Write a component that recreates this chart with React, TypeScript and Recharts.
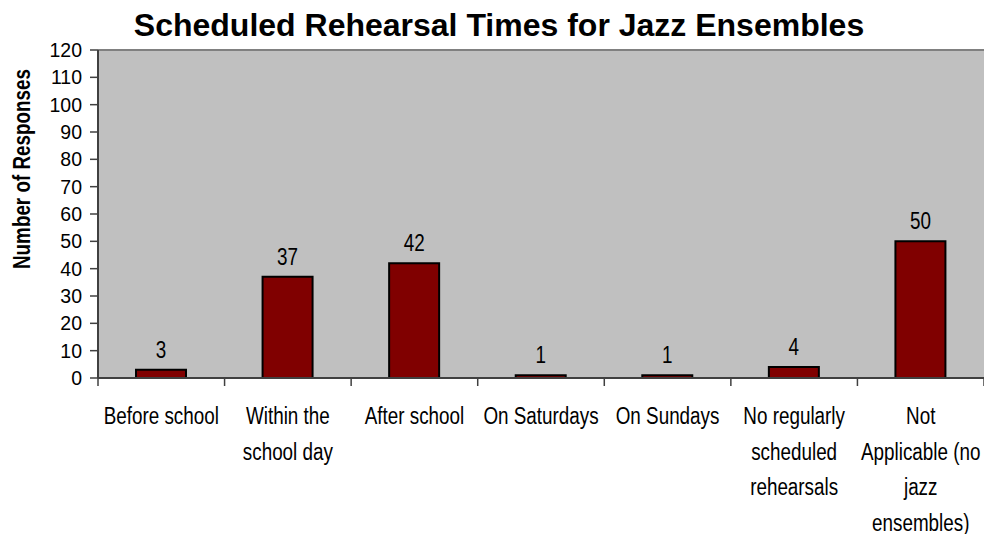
import React from 'react';
import { BarChart, Bar, XAxis, YAxis, CartesianGrid, ReferenceLine, LabelList } from 'recharts';

const categories = [
  'Before school',
  'Within the school day',
  'After school',
  'On Saturdays',
  'On Sundays',
  'No regularly scheduled rehearsals',
  'Not Applicable (no jazz ensembles)',
];
const categoryLines: string[][] = [
  ['Before school'],
  ['Within the', 'school day'],
  ['After school'],
  ['On Saturdays'],
  ['On Sundays'],
  ['No regularly', 'scheduled', 'rehearsals'],
  ['Not', 'Applicable (no', 'jazz', 'ensembles)'],
];
const responses = [3, 37, 42, 1, 1, 4, 50];
const yTicks = [0, 10, 20, 30, 40, 50, 60, 70, 80, 90, 100, 110, 120];

const data = categories.map((c, i) => ({ cat: c, value: responses[i] }));

const W = 984;
const H = 534;
const Y_AXIS_W = 98;
const BAND = (W - Y_AXIS_W) / categories.length;
const SANS = '"Liberation Sans", Arial, sans-serif';
const AXIS = '#404040';
const NARROW_SCALE = 0.82;

const NText = ({ x, y, size, bold, rotate, children }: any) => (
  <text
    transform={`translate(${x},${y})${rotate ? ` rotate(${rotate})` : ''} scale(${NARROW_SCALE},1)`}
    x={0}
    y={0}
    textAnchor="middle"
    dominantBaseline={rotate ? 'central' : 'auto'}
    fontFamily={SANS}
    fontWeight={bold ? 'bold' : 'normal'}
    fontSize={size}
    fill="#000"
  >
    {children}
  </text>
);

const XTick = (props: any) => {
  const { x, y, index } = props;
  const lines = categoryLines[index] || [];
  return (
    <g>
      <line x1={x - BAND / 2} y1={y} x2={x - BAND / 2} y2={y + 8} stroke={AXIS} strokeWidth={1.5} />
      {index === categories.length - 1 && (
        <line x1={x + BAND / 2} y1={y} x2={x + BAND / 2} y2={y + 8} stroke={AXIS} strokeWidth={1.5} />
      )}
      {lines.map((l, i) => (
        <NText key={i} x={x} y={y + 46 + i * 35.6} size={23}>
          {l}
        </NText>
      ))}
    </g>
  );
};

const YLabel = () => (
  <NText x={22} y={169} size={23} bold rotate={-90}>
    Number of Responses
  </NText>
);

const ValueLabel = (props: any) => {
  const { x, y, width, value } = props;
  return (
    <NText x={x + width / 2} y={y - 12} size={23}>
      {value}
    </NText>
  );
};

export default function App() {
  return (
    <div style={{ position: 'absolute', left: 0, top: 0, width: W, height: H, background: '#fff' }}>
      <div
        style={{
          position: 'absolute',
          left: 0,
          top: 9,
          width: 998,
          textAlign: 'center',
          fontFamily: SANS,
          fontWeight: 'bold',
          fontSize: 32,
          lineHeight: '32px',
          color: '#000',
          whiteSpace: 'nowrap',
        }}
      >
        Scheduled Rehearsal Times for Jazz Ensembles
      </div>
      <BarChart
        width={W}
        height={H}
        data={data}
        margin={{ top: 50, right: 0, bottom: 0, left: 0 }}
        barSize={50}
        style={{ position: 'absolute', left: 0, top: 0 }}
      >
        <CartesianGrid horizontal={false} vertical={false} fill="#c0c0c0" />
        <XAxis
          dataKey="cat"
          interval={0}
          height={156}
          tickSize={0}
          tickMargin={0}
          tickLine={false}
          axisLine={{ stroke: AXIS, strokeWidth: 2 }}
          tick={<XTick />}
        />
        <YAxis
          width={Y_AXIS_W}
          domain={[0, 120]}
          ticks={yTicks}
          interval={0}
          tickSize={8}
          tickMargin={8}
          axisLine={{ stroke: AXIS, strokeWidth: 2 }}
          tickLine={{ stroke: AXIS, strokeWidth: 1.5 }}
          tick={{ fill: '#000', fontSize: 19.5, fontFamily: SANS }}
          label={<YLabel />}
        />
        <ReferenceLine y={120} stroke="#808080" strokeWidth={2} />
        <Bar dataKey="value" fill="#800000" stroke="#000" strokeWidth={2} isAnimationActive={false}>
          <LabelList dataKey="value" content={<ValueLabel />} />
        </Bar>
      </BarChart>
    </div>
  );
}
